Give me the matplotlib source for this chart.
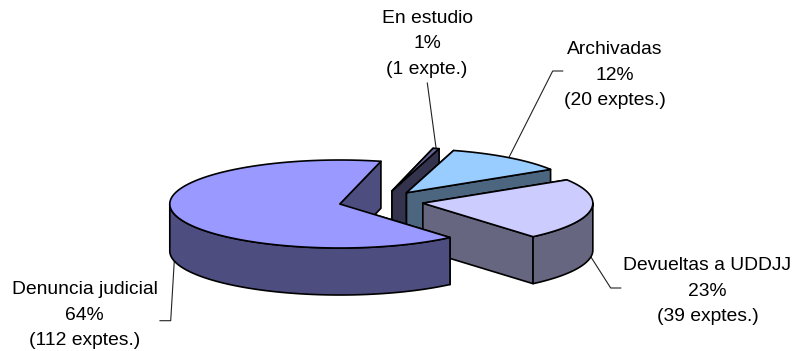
import numpy as np
import matplotlib
matplotlib.use("Agg")
import matplotlib.pyplot as plt

categories = ['Denuncia judicial', 'Devueltas a UDDJJ', 'Archivadas', 'En estudio']
expedientes = [112, 39, 20, 1]
percent_labels = ['64%', '23%', '12%', '1%']
count_labels = ['(112 exptes.)', '(39 exptes.)', '(20 exptes.)', '(1 expte.)']

top_colors = ['#9999FF', '#CCCCFF', '#99CCFF', '#666699']
side_colors = ['#4D4D80', '#666680', '#4D6680', '#33334D']

# geometrie du camembert, en pixels
cx, cy = 381, 201.5
rx, ry = 170, 44
depth = 47
explode = 0.249
start_angle = 76

# position des textes et coude des lignes de rappel
label_pos = [(84.5, 315), (707.5, 291), (615, 75), (427, 44)]
bends = [[(170.7, 320.7), (160, 320.7)],
         [(610.7, 288), (620.7, 288)],
         [(552.7, 71), (562.7, 71)],
         [(427.3, 83)]]
leader_on_bottom = [True, True, False, False]

plt.rcParams['font.family'] = ['Liberation Sans', 'DejaVu Sans']


def ellipse_xy(x0, y0, angles):
    t = np.radians(angles)
    return x0 + rx * np.cos(t), y0 - ry * np.sin(t)


def draw_slice(ax, x0, y0, a0, a1, top, side):
    # parois radiales d'abord, puis paroi exterieure, puis le dessus
    for a in (a1, a0):
        ex, ey = ellipse_xy(x0, y0, np.array([a]))
        ax.fill([x0, ex[0], ex[0], x0], [y0, ey[0], ey[0] + depth, y0 + depth],
                facecolor=side, edgecolor='black', lw=1.2, joinstyle='round')
    for shift in (0, 360):
        lo = max(a0, 180 + shift)
        hi = min(a1, 360 + shift)
        if hi > lo:
            ang = np.linspace(lo, hi, 120)
            ex, ey = ellipse_xy(x0, y0, ang)
            ax.fill(np.r_[ex, ex[::-1]], np.r_[ey, ey[::-1] + depth],
                    facecolor=side, edgecolor='black', lw=1.2, joinstyle='round')
    ang = np.linspace(a0, a1, 200)
    ex, ey = ellipse_xy(x0, y0, ang)
    ax.fill(np.r_[x0, ex], np.r_[y0, ey], facecolor=top, edgecolor='black',
            lw=1.2, joinstyle='round')


fig = plt.figure(figsize=(8.1, 3.51), dpi=100)
ax = fig.add_axes([0, 0, 1, 1])
ax.set_xlim(0, 810)
ax.set_ylim(351, 0)
ax.axis('off')

spans = np.array(expedientes) / sum(expedientes) * 360
starts = start_angle + np.r_[0, np.cumsum(spans)[:-1]]
mids = starts + spans / 2
dx = explode * rx * np.cos(np.radians(mids))
dy = -explode * ry * np.sin(np.radians(mids))

# lignes de rappel derriere le camembert
for i in range(len(categories)):
    x, y = ellipse_xy(cx + dx[i], cy + dy[i], np.array([mids[i]]))
    y = y + depth if leader_on_bottom[i] else y
    xs = [x[0]] + [p[0] for p in bends[i]]
    ys = [y[0]] + [p[1] for p in bends[i]]
    ax.plot(xs, ys, color='#222222', lw=0.8, zorder=0)

# du fond vers l'avant
for i in [3, 2, 1, 0]:
    draw_slice(ax, cx + dx[i], cy + dy[i], starts[i], starts[i] + spans[i],
               top_colors[i], side_colors[i])

for i in range(len(categories)):
    ax.text(label_pos[i][0], label_pos[i][1],
            categories[i] + '\n' + percent_labels[i] + '\n' + count_labels[i],
            ha='center', va='center', ma='center', fontsize=13.9, linespacing=1.68,
            color='black')

fig.savefig('out.png', dpi=100)
